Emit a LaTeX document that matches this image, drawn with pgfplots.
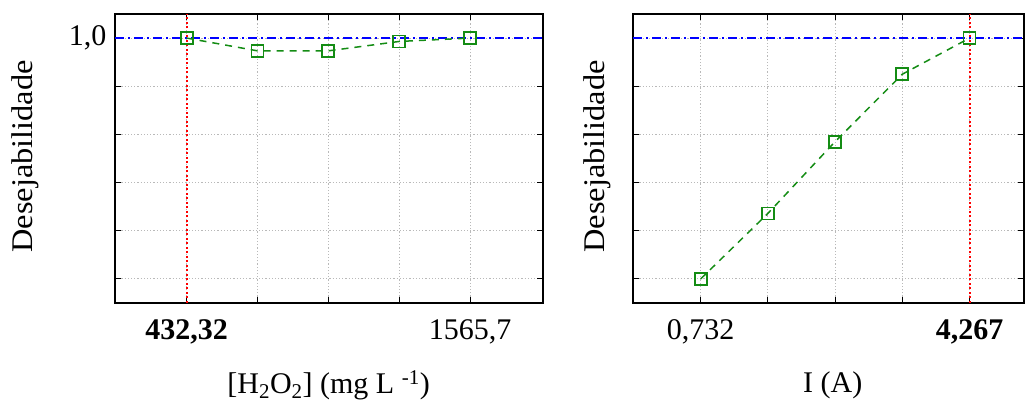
\documentclass[border=0pt]{standalone}
\usepackage{pgfplots}
\pgfplotsset{compat=1.18}
\usepackage{fontspec}
\setmainfont{Liberation Serif}
\definecolor{plotgreen}{RGB}{20,140,20}
\definecolor{gridgray}{RGB}{185,185,185}
\newcommand{\fnt}{\fontsize{30bp}{34bp}\selectfont}
\pgfplotsset{
  desej/.style={
    scale only axis,
    anchor=south west,
    ymin=-0.1, ymax=1.1,
    ytick={0,0.2,0.4,0.6,0.8,1.0},
    xtick={0,1,2,3,4},
    grid=major,
    major grid style={gridgray, line width=1bp, dash pattern=on 1.2bp off 2bp},
    axis line style={black, line width=1.8bp},
    tick style={black, line width=1bp},
    major tick length=6bp,
    tick align=inside,
    xtick pos=both, ytick pos=both,
    tick label style={font=\fnt},
    label style={font=\fnt},
    xticklabel style={anchor=north, yshift=-13bp},
    yticklabel style={anchor=east, xshift=-5bp},
    clip=false,
  },
  green line/.style={plotgreen, line width=1.5bp, dash pattern=on 7bp off 6bp,
    mark=square, mark size=6bp, mark options={solid, fill=white, line width=1.8bp}},
  blue line/.style={blue, line width=1.5bp, dash pattern=on 9bp off 4bp on 2bp off 4bp},
  red line/.style={red, line width=2bp, dash pattern=on 2bp off 2.5bp},
}
\begin{document}
\begin{tikzpicture}
\useasboundingbox (0,0) rectangle (1025bp,405bp);
\begin{axis}[desej,
  at={(115bp,102bp)}, width=428bp, height=289bp,
  xmin=-1.013, xmax=5.03,
  xticklabels={{\textbf{432,32}},{},{},{},{1565,7}},
  yticklabels={{},{},{},{},{},{1,0}},
  ylabel={\scalebox{1.08}[1]{Desejabilidade}},
  ylabel style={at={(axis description cs:-0.21,0.507)}, anchor=center, rotate=0},
  xlabel={[H\textsubscript{2}O\textsubscript{2}] (mg L \textsuperscript{-1})},
  xlabel style={at={(axis description cs:0.499,-0.284)}, anchor=center},
]
\addplot[blue line] coordinates {(-1.013,1) (5.03,1)};
\addplot[red line] coordinates {(0,-0.1) (0,1.1)};
\addplot[green line] coordinates {(0,1.0) (1,0.947) (2,0.947) (3,0.986) (4,1.0)};
\end{axis}
\begin{axis}[desej,
  at={(633bp,102bp)}, width=391bp, height=289bp,
  xmin=-1.007, xmax=4.81,
  xticklabels={{0,732},{},{},{},{\textbf{4,267}}},
  yticklabels={},
  ylabel={\scalebox{1.08}[1]{Desejabilidade}},
  ylabel style={at={(axis description cs:-0.091,0.507)}, anchor=center, rotate=0},
  xlabel={I (A)},
  xlabel style={at={(axis description cs:0.511,-0.284)}, anchor=center},
]
\addplot[blue line] coordinates {(-1.007,1) (4.81,1)};
\addplot[red line] coordinates {(4,-0.1) (4,1.1)};
\addplot[green line] coordinates {(0,0.0) (1,0.272) (2,0.570) (3,0.85) (4,1.0)};
\end{axis}
\end{tikzpicture}
\end{document}
